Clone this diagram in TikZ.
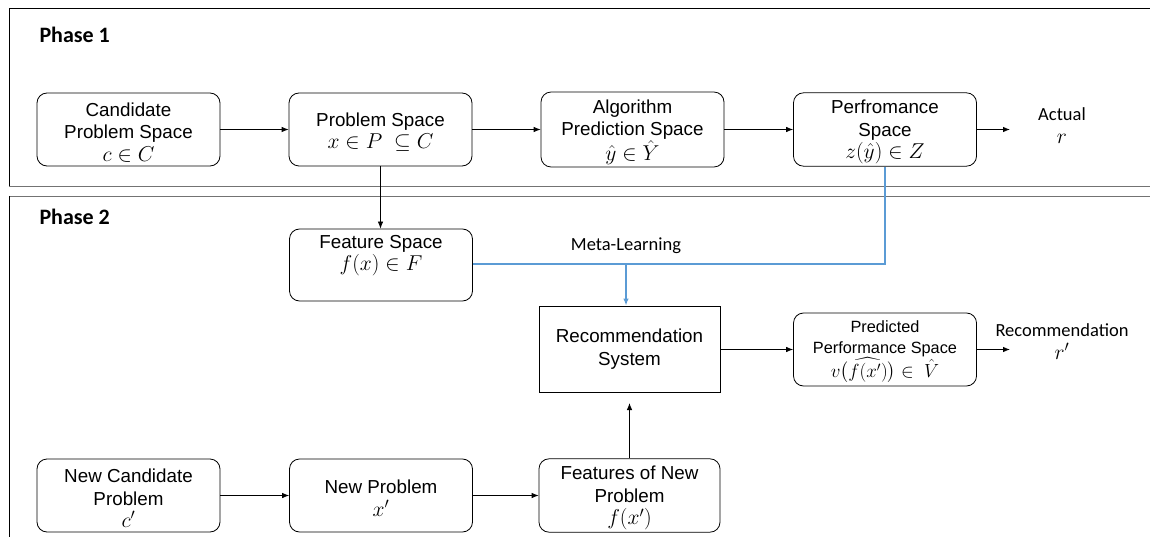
\RequirePackage{fix-cm}
\documentclass[tikz,border=0pt]{standalone}
\usepackage{amsmath}
\usepackage{fontspec}
\setmainfont{Liberation Sans}
\newfontfamily\calib{Carlito}
\usetikzlibrary{arrows.meta}
\definecolor{mlblue}{RGB}{91,155,213}
\newcommand\mm[1]{{\fontsize{21.5}{22.5}\selectfont$#1$}}
\newcommand\mms[1]{{\fontsize{19}{21.5}\selectfont$#1$}}
\newcommand\tp{\rule{0pt}{19pt}}
\tikzset{
  x=1pt,y=-1pt,
  boxtext/.style={font=\fontsize{18.8}{22.5}\selectfont},
  rbox/.style={draw,line width=0.8pt,rounded corners=10pt,minimum width=183pt,minimum height=73pt,align=center,inner sep=2pt,boxtext},
  sbox/.style={draw,line width=0.8pt,minimum width=181pt,minimum height=86pt,align=center,inner sep=2pt,boxtext},
  lbl/.style={align=center,font=\calib\fontsize{18.5}{23}\selectfont},
  phase/.style={anchor=west,font=\calib\bfseries\fontsize{22}{26}\selectfont},
  arr/.style={line width=0.8pt,-{Latex[length=7pt,width=5.5pt]}},
  bline/.style={line width=1.4pt,mlblue},
  barr/.style={bline,-{Latex[length=7pt,width=5.5pt]}},
  vline/.style={line width=0.9pt},
  hline/.style={line width=1.8pt,black!55}
}
\begin{document}
\begin{tikzpicture}
\useasboundingbox (0,0) rectangle (1150,537);
\clip (0,0) rectangle (1150,537);
% frames
\draw[line width=1pt] (1160,9) -- (9,9) -- (9,187);
\draw[hline] (9,186.5) -- (1160,186.5);
\draw[hline] (9,196.5) -- (1160,196.5);
\draw[vline] (9,196) -- (9,560);
\node[phase] (ph1) at (36,35) {Phase 1};
\node[phase] (ph2) at (36,217) {Phase 2};
% phase 1 boxes
\node[rbox] (cand) at (128.5,129.5) {\tp Candidate\\Problem Space\\\mm{c\in C}};
\node[rbox] (prob) at (380.5,129.5) {\tp Problem Space\\\mm{x\in P\;\subseteq C}};
\node[rbox] (alg) at (632.5,129.5) {\tp Algorithm\\Prediction Space\\\mm{\hat{y}\in\hat{Y}}};
\node[rbox] (perf) at (885,129.5) {\tp Perfromance\\Space\\\mm{z(\hat{y})\in Z}};
\node[lbl] (actual) at (1062,125.5) {Actual\\\mm{r}};
\coordinate (a1) at (1010,129.5);
% phase 2 boxes
\node[rbox,minimum height=72pt] (feat) at (381,265) {Feature Space\\\mm{f(x)\in F}\\[2pt]};
\node[sbox] (rec) at (629.5,349) {Recommendation\\System};
\node[rbox,font=\fontsize{16.3}{21}\selectfont] (pred) at (885,349.5) {\rule{0pt}{17pt}Predicted\\Performance Space\\\mms{v\bigl(\widehat{f(x')}\bigr)\in\;\hat{V}}};
\node[lbl] (recout) at (1062,341.5) {Recommendation\\\mm{r'}};
\coordinate (a2) at (1010,349.5);
\node[lbl] (ml) at (626,246) {Meta-Learning};
\coordinate (mlj) at (626,264);
% phase 2 new problem row
\node[rbox] (newc) at (128.5,495.5) {\tp New Candidate\\Problem\\\mm{c'}};
\node[rbox] (newp) at (381,495.5) {\tp New Problem\\\mm{x'}};
\node[rbox,minimum width=181pt] (fnew) at (629.5,495.5) {\tp Features of New\\Problem\\\mm{f(x')}};
\coordinate (up) at (629.5,403);
% connectors
\draw[arr] (cand) -- (prob);
\draw[arr] (prob) -- (alg);
\draw[arr] (alg) -- (perf);
\draw[arr] (perf) -- (a1);
\draw[arr] (prob.south) -- (feat.north -| prob.south);
\draw[bline] (feat.east |- mlj) -- (perf.south |- mlj) -- (perf.south);
\draw[barr] (mlj) -- (mlj |- rec.north);
\draw[arr] (rec.east |- pred.west) -- (pred.west);
\draw[arr] (pred) -- (a2);
\draw[arr] (newc) -- (newp);
\draw[arr] (newp) -- (fnew);
\draw[arr] (fnew.north) -- (up);
\end{tikzpicture}
\end{document}
